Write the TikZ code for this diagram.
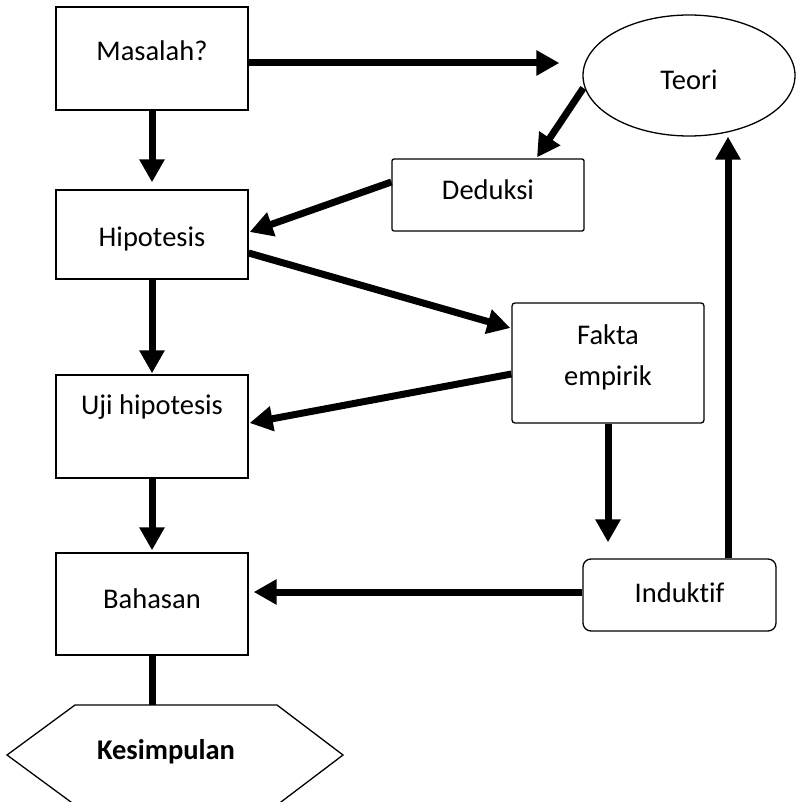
\documentclass[tikz,border=0pt]{standalone}
\usepackage{fontspec}
\setmainfont{Carlito}[Ligatures={NoCommon}]
\usetikzlibrary{arrows.meta,shapes.geometric}
\begin{document}
\begin{tikzpicture}[x=1pt,y=-1pt,
  every node/.style={inner sep=0pt, font=\fontsize{28.5}{41}\selectfont},
  sqbox/.style={draw, line width=1.3pt, rectangle, minimum width=192pt},
  rbox/.style={draw, line width=1.3pt, rectangle, rounded corners=#1},
  arr/.style={line width=7pt, -{Triangle[width=24pt,length=23pt]}},
  bar/.style={line width=7pt}
]
\useasboundingbox (0,0) rectangle (795,802);
% boxes
\node[sqbox, minimum height=103pt, text height=54pt, text depth=49pt] (masalah) at (152,58.5) {Masalah?};
\node[sqbox, minimum height=89pt, text height=56pt, text depth=33pt] (hipo) at (152,234.5) {Hipotesis};
\node[sqbox, minimum height=103pt, text height=39pt, text depth=64pt] (uji) at (152,426.5) {Uji hipotesis};
\node[sqbox, minimum height=102pt, text height=55pt, text depth=47pt] (bahasan) at (152,604) {Bahasan};
\node[ellipse, draw, line width=1.3pt, minimum width=212pt, minimum height=121pt, text height=28pt, text depth=0pt] (teori) at (689,75.5) {Teori};
\node[rbox=2pt, minimum width=192pt, minimum height=72pt, text height=41pt, text depth=31pt] (deduksi) at (488,195) {Deduksi};
\node[rbox=3pt, minimum width=192pt, minimum height=120pt, align=center, text height=82pt, text depth=38pt] (fakta) at (608,363) {Fakta\\empirik};
\node[rbox=8pt, minimum width=193pt, minimum height=72pt, text height=43pt, text depth=29pt] (induktif) at (679.5,595) {Induktif};
% Kesimpulan hexagon
\node[font=\fontsize{28.5}{34}\selectfont\bfseries, text height=20pt, text depth=8pt] (kes) at (166,753) {Kesimpulan};
\draw[line width=1.3pt] (75,705) -- (277,705) -- (343,755) -- (277,805) -- (75,805) -- (7,755) -- cycle;
\coordinate (kestop) at (152,705);
% connectors
\draw[arr] ([yshift=-4.5pt]masalah.east) -- ([xshift=-23pt,yshift=12.5pt]teori.west);
\draw[arr] (masalah.south) -- ([yshift=7pt]hipo.north);
\draw[arr] ([xshift=1pt,yshift=-12.5pt]teori.west) -- ([xshift=49pt,yshift=1pt]deduksi.north);
\draw[arr] ([yshift=13pt]deduksi.west) -- ([xshift=1pt,yshift=2.5pt]hipo.east);
\draw[arr] ([yshift=-18.5pt]hipo.east) -- ([xshift=-1pt,yshift=35pt]fakta.west);
\draw[arr] ([yshift=-11pt]fakta.west) -- ([xshift=1pt,yshift=3.5pt]uji.east);
\draw[arr] (hipo.south) -- ([yshift=1pt]uji.north);
\draw[arr] (uji.south) -- ([yshift=2pt]bahasan.north);
\draw[arr, shorten >=16pt] (fakta.south) -- (fakta.south |- induktif.north);
\draw[arr] ([xshift=48.5pt]induktif.north) -- ([xshift=48.5pt]induktif.north |- teori.south);
\draw[arr, shorten >=5pt] ([yshift=3pt]induktif.west) -- ([yshift=3pt]induktif.west -| bahasan.east);
\draw[bar] (bahasan.south) -- (kestop);
\end{tikzpicture}
\end{document}
